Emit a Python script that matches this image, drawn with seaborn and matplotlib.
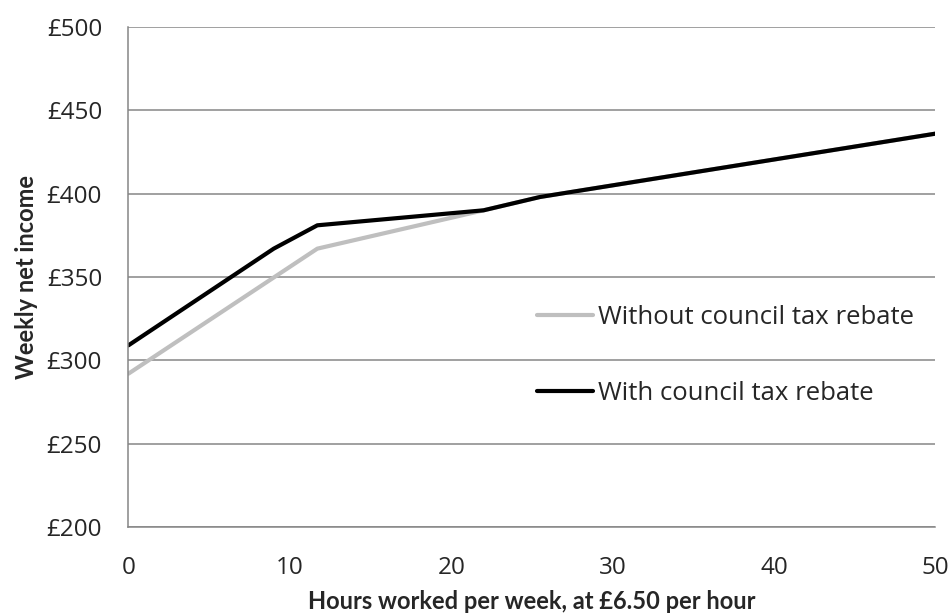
import matplotlib
matplotlib.use("Agg")
import matplotlib.pyplot as plt
import seaborn as sns
import pandas as pd

# Data (hours per week -> weekly net income, GBP)
hours_without = [0, 11.7, 22, 25.5, 50]
income_without = [292, 367, 390, 398, 436]

hours_with = [0, 9, 11.7, 22, 25.5, 50]
income_with = [309, 367, 381, 390, 398, 436]

y_ticks = [200, 250, 300, 350, 400, 450, 500]
x_ticks = [0, 10, 20, 30, 40, 50]

sns.set_style("white")
plt.rcParams["font.family"] = ["Open Sans", "DejaVu Sans"]

df = pd.concat([
    pd.DataFrame({"hours": hours_without, "income": income_without,
                  "series": "Without council tax rebate"}),
    pd.DataFrame({"hours": hours_with, "income": income_with,
                  "series": "With council tax rebate"}),
])

fig = plt.figure(figsize=(9.51, 6.13), dpi=100)
ax = fig.add_axes([0.1351, 0.1403, 0.8486, 0.8157])

sns.lineplot(data=df, x="hours", y="income", hue="series",
             palette={"Without council tax rebate": "#BFBFBF",
                      "With council tax rebate": "#000000"},
             linewidth=3.0, sort=False, estimator=None, ax=ax)

ax.set_xlim(0, 50)
ax.set_ylim(200, 500)
ax.set_xticks(x_ticks)
ax.set_yticks(y_ticks)
ax.set_yticklabels([f"£{v}" for v in y_ticks])
ax.tick_params(axis="both", labelsize=17.5, length=5, width=1.1,
               color="#868686", direction="out")
ax.tick_params(axis="y", pad=14)
ax.tick_params(axis="x", pad=16)

ax.yaxis.grid(True, color="#868686", linewidth=1.1)
ax.set_axisbelow(True)
for side in ["top", "right"]:
    ax.spines[side].set_visible(False)
for side in ["left", "bottom"]:
    ax.spines[side].set_color("#868686")
    ax.spines[side].set_linewidth(1.1)

ax.set_xlabel("Hours worked per week, at £6.50 per hour",
              fontsize=17, fontweight="bold", labelpad=7,
              family=["Lato", "DejaVu Sans"])
ax.set_ylabel("Weekly net income", fontsize=17, fontweight="bold", labelpad=6,
              family=["Lato", "DejaVu Sans"])

ax.legend(loc="center left", bbox_to_anchor=(0.506, 0.343), frameon=False,
          fontsize=18.5, handlelength=2.18, handletextpad=0.2,
          labelspacing=1.95, borderpad=0, borderaxespad=0)

fig.savefig("out.png", dpi=100)
